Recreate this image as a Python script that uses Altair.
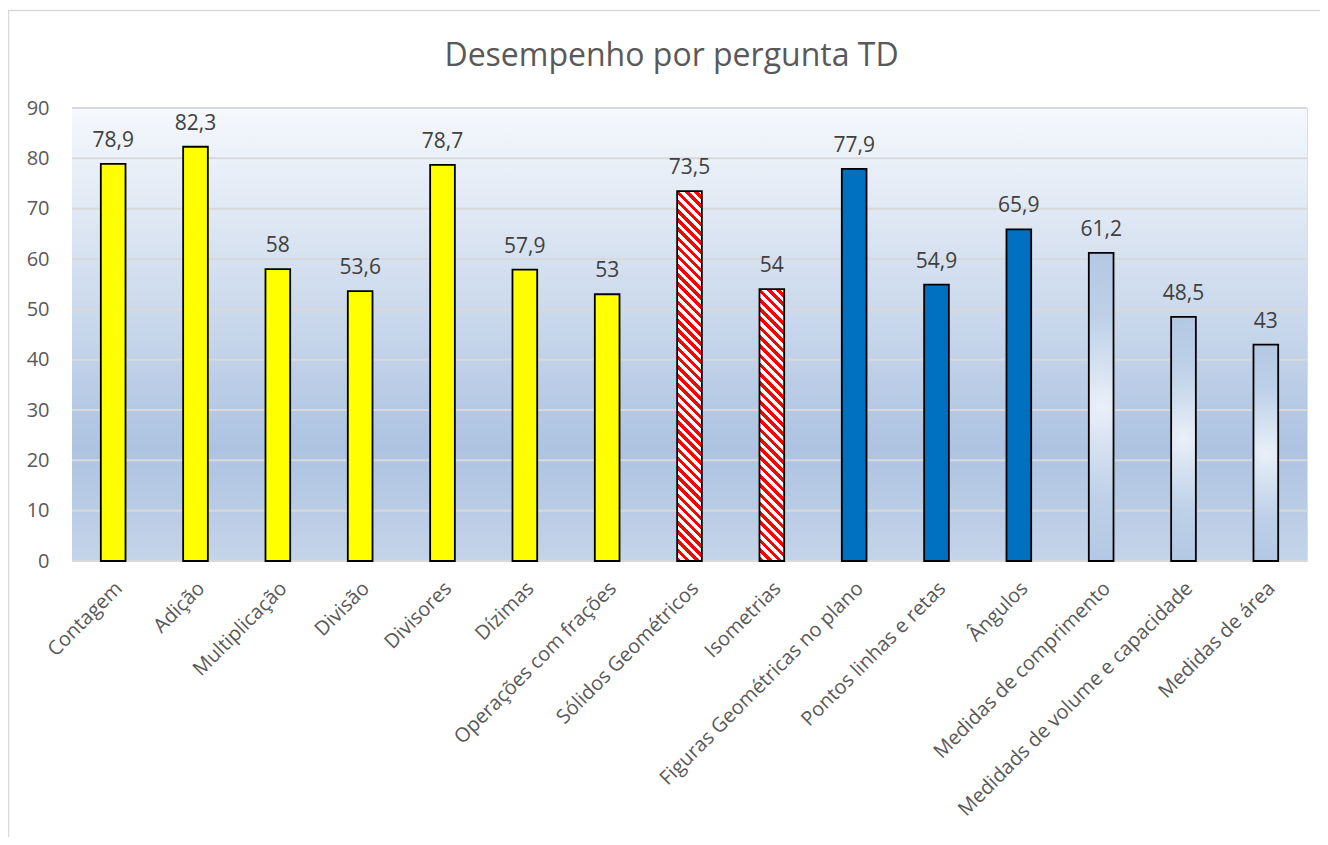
import math
import altair as alt
import pandas as pd

categories = ["Contagem", "Adição", "Multiplicação", "Divisão", "Divisores", "Dízimas",
              "Operações com frações", "Sólidos Geométricos", "Isometrias",
              "Figuras Geométricas no plano", "Pontos linhas e retas", "Ângulos",
              "Medidas de comprimento", "Medidads de volume e capacidade", "Medidas de área"]
values = [78.9, 82.3, 58, 53.6, 78.7, 57.9, 53, 73.5, 54, 77.9, 54.9, 65.9, 61.2, 48.5, 43]
groups = ["yellow"] * 7 + ["red"] * 2 + ["blue"] * 3 + ["light"] * 3
y_ticks = [0, 10, 20, 30, 40, 50, 60, 70, 80, 90]


def fmt(v):
    s = ("%g" % v)
    return s.replace(".", ",")


df = pd.DataFrame({"cat": categories, "value": values, "grp": groups,
                   "label": [fmt(v) for v in values]})

W, H = 1235, 453
PAD_IN, PAD_OUT = 0.7, 0.35
FONT = "Open Sans"
step = W / (len(categories) - PAD_IN + 2 * PAD_OUT)
bw = step * (1 - PAD_IN)


def stripes(w, h, period=6.5, c1="#ff0000", c2="#ffffff"):
    k = (w + h) / (w * w + h * h)
    L = (w + h) / math.sqrt(2)
    n = max(1, round(L / period))
    stops = []
    for i in range(n):
        a, b, c = i / n, (i + 0.5) / n, (i + 1) / n
        stops += [{"offset": a, "color": c1}, {"offset": b, "color": c1},
                  {"offset": b, "color": c2}, {"offset": c, "color": c2}]
    return {"gradient": "linear", "x1": 0, "y1": 1, "x2": k * w, "y2": 1 - k * h, "stops": stops}


x_enc = alt.X("cat:N", scale=alt.Scale(domain=categories, paddingInner=PAD_IN, paddingOuter=PAD_OUT),
              axis=alt.Axis(title=None, labelAngle=-45, labelAlign="right", labelBaseline="middle",
                            labelFontSize=20, labelFont=FONT, labelColor="#595959", domain=False,
                            ticks=False, labelPadding=24, labelOffset=6, labelLimit=0))
y_scale = alt.Scale(domain=[0, 90], nice=False)
y_axis = alt.Axis(title=None, values=y_ticks, grid=False, domain=False, ticks=False,
                  labelFontSize=20, labelFont=FONT, labelColor="#595959", labelPadding=23)
y_enc = alt.Y("value:Q", scale=y_scale, axis=y_axis)

bg_grad = {"gradient": "linear", "x1": 0, "y1": 0, "x2": 0, "y2": 1,
           "stops": [{"offset": 0, "color": "#f5f8fc"},
                     {"offset": 0.45, "color": "#cbd9ec"},
                     {"offset": 0.75, "color": "#adc3e1"},
                     {"offset": 1, "color": "#c4d4e9"}]}

frame = alt.Chart(pd.DataFrame({"a": [0]})).mark_rect(
    filled=False, stroke="#d9d9d9", strokeWidth=1.5).encode(
    x=alt.value(-63.5), x2=alt.value(W + 200), y=alt.value(-97.5), y2=alt.value(H + 600))

background = alt.Chart(pd.DataFrame({"a": [0]})).mark_rect(color=bg_grad).encode(
    x=alt.value(0), x2=alt.value(W),
    y=alt.Y(datum=90, scale=y_scale, axis=y_axis), y2=alt.datum(0))

grid = alt.Chart(pd.DataFrame({"tick": y_ticks})).mark_rule(color="#d9d9d9", strokeWidth=2).encode(
    y=alt.Y("tick:Q", scale=y_scale, axis=y_axis), x=alt.value(0), x2=alt.value(W))

base = alt.Chart(df)

yellow = base.transform_filter(alt.datum.grp == "yellow").mark_bar(
    color="#ffff00", stroke="#000000", strokeWidth=1.8).encode(x=x_enc, y=y_enc)
blue = base.transform_filter(alt.datum.grp == "blue").mark_bar(
    color="#0070c0", stroke="#000000", strokeWidth=1.8).encode(x=x_enc, y=y_enc)

light_grad = {"gradient": "radial", "x1": 0.5, "y1": 0.5, "r1": 0, "x2": 0.5, "y2": 0.5, "r2": 0.5,
              "stops": [{"offset": 0, "color": "#eaf0f8"},
                        {"offset": 0.3, "color": "#d2dfef"},
                        {"offset": 0.6, "color": "#bdd0e8"},
                        {"offset": 1, "color": "#b3c8e4"}]}
light = base.transform_filter(alt.datum.grp == "light").mark_bar(
    color=light_grad, stroke="#000000", strokeWidth=1.8).encode(x=x_enc, y=y_enc)

red_layers = []
for c, v, g in zip(categories, values, groups):
    if g == "red":
        h = v / 90 * H
        red_layers.append(
            base.transform_filter(alt.datum.cat == c).mark_bar(
                color=stripes(bw, h), stroke="#000000", strokeWidth=1.8).encode(x=x_enc, y=y_enc))

labels = base.mark_text(dy=-17, baseline="alphabetic", fontSize=21, font=FONT, color="#404040").encode(
    x=x_enc, y=y_enc, text="label:N")

chart = alt.layer(frame, background, grid, yellow, *red_layers, blue, light, labels).properties(
    width=W, height=H,
    title=alt.TitleParams("Desempenho por pergunta TD", fontSize=32, font=FONT, color="#595959",
                          fontWeight="normal", anchor="middle", dx=-18, offset=-88,
                          baseline="alphabetic"),
    autosize=alt.AutoSizeParams(type="none"),
    padding={"left": 64, "top": 100, "right": 13, "bottom": 276},
).configure_view(stroke=None).configure(background="#ffffff")

chart.save("out.html", embed_options={"renderer": "svg", "actions": False})
